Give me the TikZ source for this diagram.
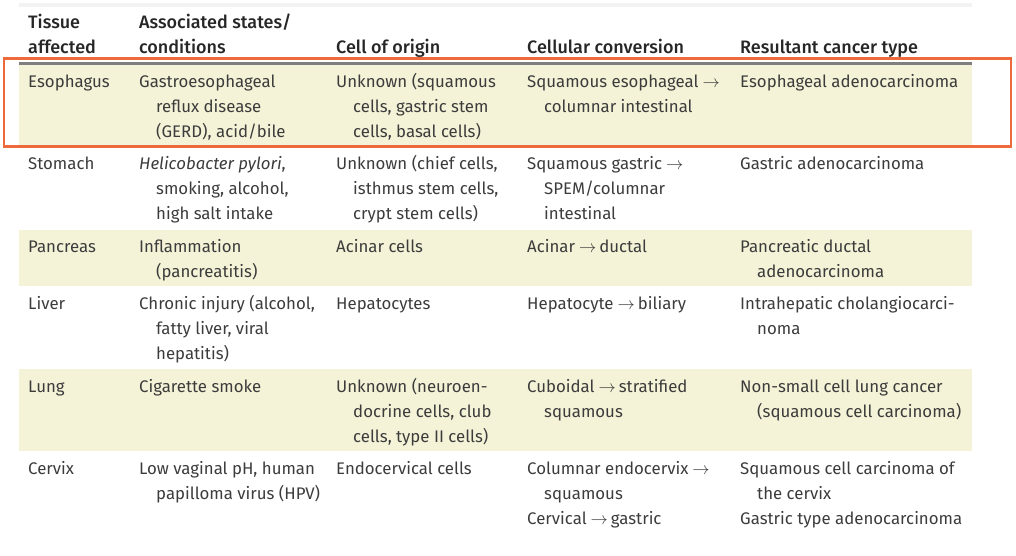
\documentclass[tikz,border=0pt]{standalone}
\usepackage{fontspec}
\setmainfont{Fira Sans}
\newfontfamily\hdrfont{Fira Sans Medium}
\definecolor{rowfill}{HTML}{F5F3D7}
\definecolor{txt}{HTML}{3C3C3C}
\definecolor{hdr}{HTML}{262626}
\definecolor{rule}{HTML}{7F7F7F}
\definecolor{hilite}{HTML}{EC6A3C}
\definecolor{faint}{HTML}{F3F3F3}
\newcommand\cl[1]{\begin{tabular}[t]{@{}l@{}}#1\end{tabular}}
\newcommand\ind{\hspace*{17pt}}
\newcommand\arr{\hspace{4pt}$\rightarrow$\hspace{3pt}}
\tikzset{
  cellt/.style={anchor=base west, inner sep=0pt, text=txt, font=\fontsize{16.8}{25}\selectfont},
  headt/.style={anchor=base west, inner sep=0pt, text=hdr, font=\hdrfont\fontsize{18}{25}\selectfont},
  band/.style={fill=rowfill, draw=none}
}
\begin{document}
\begin{tikzpicture}[x=1pt,y=-1pt]
\useasboundingbox (0,0) rectangle (1016,556);
% faint top line
\draw[faint, line width=4pt] (19,5) -- (972,5);
% shaded rows
\fill[band] (19,64) rectangle (972,146);
\fill[band] (19,230) rectangle (972,286);
\fill[band] (19,369) rectangle (972,451);
% header rule
\draw[rule, line width=2.5pt] (19,63.5) -- (972,63.5);
% highlight box
\draw[hilite, line width=2.5pt] (4,58.5) rectangle (1011,146.5);
% header
\node[headt] (h1) at (28,29) {\cl{Tissue\\affected}};
\node[headt] (h2) at (139,29) {\cl{Associated states/\\conditions}};
\node[headt] (h3) at (336,54) {Cell of origin};
\node[headt] (h4) at (527,54) {Cellular conversion};
\node[headt] (h5) at (740,54) {Resultant cancer type};
% Esophagus
\node[cellt] (e1) at (28,87.5) {Esophagus};
\node[cellt] (e2) at (139,87.5) {\cl{Gastroesophageal\\\ind reflux disease\\\ind (GERD), acid/bile}};
\node[cellt] (e3) at (336,87.5) {\cl{Unknown (squamous\\\ind cells, gastric stem\\\ind cells, basal cells)}};
\node[cellt] (e4) at (527,87.5) {\cl{Squamous esophageal\arr\\\ind columnar intestinal}};
\node[cellt] (e5) at (740,87.5) {Esophageal adenocarcinoma};
% Stomach
\node[cellt] (s1) at (28,169.5) {Stomach};
\node[cellt] (s2) at (139,169.5) {\cl{\textit{Helicobacter pylori},\\\ind smoking, alcohol,\\\ind high salt intake}};
\node[cellt] (s3) at (336,169.5) {\cl{Unknown (chief cells,\\\ind isthmus stem cells,\\\ind crypt stem cells)}};
\node[cellt] (s4) at (527,169.5) {\cl{Squamous gastric\arr\\\ind SPEM/columnar\\\ind intestinal}};
\node[cellt] (s5) at (740,169.5) {Gastric adenocarcinoma};
% Pancreas
\node[cellt] (p1) at (28,252.5) {Pancreas};
\node[cellt] (p2) at (139,252.5) {\cl{Inflammation\\\ind (pancreatitis)}};
\node[cellt] (p3) at (336,252.5) {Acinar cells};
\node[cellt] (p4) at (527,252.5) {Acinar\arr ductal};
\node[cellt] (p5) at (740,252.5) {\cl{Pancreatic ductal\\\ind adenocarcinoma}};
% Liver
\node[cellt] (l1) at (28,309) {Liver};
\node[cellt] (l2) at (139,309) {\cl{Chronic injury (alcohol,\\\ind fatty liver, viral\\\ind hepatitis)}};
\node[cellt] (l3) at (336,309) {Hepatocytes};
\node[cellt] (l4) at (527,309) {Hepatocyte\arr biliary};
\node[cellt] (l5) at (740,309) {\cl{Intrahepatic cholangiocarci-\\\ind noma}};
% Lung
\node[cellt] (g1) at (28,392) {Lung};
\node[cellt] (g2) at (139,392) {Cigarette smoke};
\node[cellt] (g3) at (336,392) {\cl{Unknown (neuroen-\\\ind docrine cells, club\\\ind cells, type II cells)}};
\node[cellt] (g4) at (527,392) {\cl{Cuboidal\arr stratified\\\ind squamous}};
\node[cellt] (g5) at (740,392) {\cl{Non-small cell lung cancer\\\ind (squamous cell carcinoma)}};
% Cervix
\node[cellt] (c1) at (28,474.5) {Cervix};
\node[cellt] (c2) at (139,474.5) {\cl{Low vaginal pH, human\\\ind papilloma virus (HPV)}};
\node[cellt] (c3) at (336,474.5) {Endocervical cells};
\node[cellt] (c4) at (527,474.5) {\cl{Columnar endocervix\arr\\\ind squamous\\Cervical\arr gastric}};
\node[cellt] (c5) at (740,474.5) {\cl{Squamous cell carcinoma of\\\ind the cervix\\Gastric type adenocarcinoma}};
\end{tikzpicture}
\end{document}
